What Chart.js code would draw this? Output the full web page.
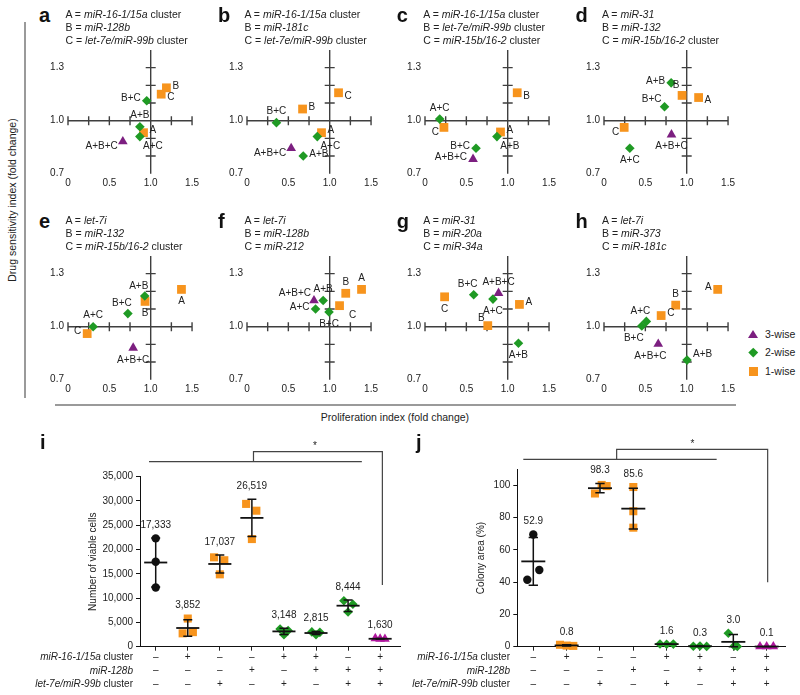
<!DOCTYPE html>
<html>
<head>
<meta charset="utf-8">
<script src="https://cdn.jsdelivr.net/npm/chart.js@4.4.1/dist/chart.umd.min.js"></script>
<style>
  body { margin: 0; background: #fff; }
  #page { position: relative; width: 800px; height: 695px; overflow: hidden;
          font-family: "Liberation Sans", Arial, Helvetica, sans-serif; color: #222; }
  #page canvas { position: absolute; }
  .txt { position: absolute; white-space: nowrap; font-size: 10.5px; line-height: 12.8px; }
  .letter { position: absolute; font-weight: bold; font-size: 20px; line-height: 22px; color: #111; }
  .rowlab { position: absolute; white-space: nowrap; font-size: 10px; line-height: 12px; text-align: right; width: 130px; }
  .gline { position: absolute; background: #9a9a9a; }
  .mk { position: absolute; }
</style>
</head>
<body>
<div id="page"></div>
<script>
// ---- scatter panels a-h: proliferation index (x) vs drug sensitivity index (y), fold change ----
const comboNames = ["A", "B", "C", "A+B", "A+C", "B+C", "A+B+C"];

const aProlif = [0.913, 1.19, 1.127, 0.869, 0.869, 0.952, 0.663];
const aDrug = [0.932, 1.186, 1.15, 0.966, 0.91, 1.113, 0.882];
const bProlif = [0.901, 0.672, 1.107, 0.68, 0.85, 0.356, 0.534];
const bDrug = [0.932, 1.066, 1.158, 0.80, 0.91, 0.989, 0.844];
const cProlif = [0.913, 1.115, 0.229, 0.87, 0.178, 0.617, 0.581];
const cDrug = [0.936, 1.158, 0.962, 0.91, 1.009, 0.844, 0.782];
const dProlif = [1.144, 0.944, 0.244, 0.812, 0.312, 0.732, 0.816];
const dDrug = [1.131, 1.143, 0.962, 1.214, 0.844, 1.079, 0.921];
const eProlif = [1.372, 0.932, 0.232, 0.928, 0.304, 0.724, 0.788];
const eDrug = [1.211, 1.143, 0.961, 1.174, 1.0, 1.074, 0.88];
const fProlif = [1.385, 1.194, 1.119, 0.921, 0.829, 0.992, 0.81];
const fDrug = [1.211, 1.189, 1.119, 1.148, 1.1, 1.083, 1.148];
const gProlif = [1.142, 0.759, 0.237, 1.13, 0.822, 0.589, 0.889];
const gDrug = [1.126, 1.006, 1.169, 0.906, 1.156, 1.181, 1.19];
const hProlif = [1.375, 0.867, 0.691, 1.004, 0.512, 0.457, 0.656];
const hDrug = [1.211, 1.122, 1.063, 0.811, 1.03, 1.004, 0.902];

// where each point's name sits next to it (same order as comboNames)
const aSide = ["r", "r", "rd", "t", "br", "l", "ld"];
const bSide = ["r", "r", "rd", "r", "br", "t", "ld"];
const cSide = ["r", "rd", "ld", "br", "t", "l", "l"];
const dSide = ["rd", "tl", "ld", "l", "b", "lu", "b"];
const eSide = ["b", "b", "l", "tl", "t", "tl", "b"];
const fSide = ["t", "t", "br", "t", "l", "b", "lu"];
const gSide = ["r", "lu", "b", "b", "b", "tl", "t"];
const hSide = ["l", "t", "r", "ru", "tl", "bl", "bl"];

const aKey = ["<i>miR-16-1/15a</i> cluster", "<i>miR-128b</i>", "<i>let-7e/miR-99b</i> cluster"];
const bKey = ["<i>miR-16-1/15a</i> cluster", "<i>miR-181c</i>", "<i>let-7e/miR-99b</i> cluster"];
const cKey = ["<i>miR-16-1/15a</i> cluster", "<i>let-7e/miR-99b</i> cluster", "<i>miR-15b/16-2</i> cluster"];
const dKey = ["<i>miR-31</i>", "<i>miR-132</i>", "<i>miR-15b/16-2</i> cluster"];
const eKey = ["<i>let-7i</i>", "<i>miR-132</i>", "<i>miR-15b/16-2</i> cluster"];
const fKey = ["<i>let-7i</i>", "<i>miR-128b</i>", "<i>miR-212</i>"];
const gKey = ["<i>miR-31</i>", "<i>miR-20a</i>", "<i>miR-34a</i>"];
const hKey = ["<i>let-7i</i>", "<i>miR-373</i>", "<i>miR-181c</i>"];

const xLabelTicks = [0, 0.5, 1.0, 1.5];
const yLabelTicks = [0.7, 1.0, 1.3];
const xAxisMarks = [0, 0.25, 0.5, 0.75, 1.0, 1.25, 1.5];
const yAxisMarks = [0.8, 0.9, 1.1, 1.2, 1.3];

// ---- panels i and j: three replicates per condition ----
const viableCells = [
  [22300, 17500, 12200], [5800, 2750, 3000], [18400, 17800, 14900], [29400, 28000, 22160],
  [3650, 3350, 2450], [3050, 2950, 2450], [9450, 8750, 7130], [1700, 1600, 1590]
];
const viableSpread = [
  [0, 0, 0], [0, -0.16, 0.16], [-0.18, 0.14, 0], [-0.18, 0.14, 0],
  [-0.12, 0.13, 0], [-0.13, 0.12, 0], [-0.13, 0.15, 0], [-0.15, 0, 0.15]
];
const viableMeans = ["17,333", "3,852", "17,037", "26,519", "3,148", "2,815", "8,444", "1,630"];

const colonyArea = [
  [69.6, 47.6, 41.5], [1.2, 0.7, 0.5], [95.0, 100.3, 99.6], [99, 84, 73.8],
  [1.7, 1.5, 1.6], [0.3, 0.4, 0.2], [8.3, 0.5, 0.2], [0.1, 0.1, 0.1]
];
const colonySpread = [
  [0, 0.18, -0.18], [-0.2, 0, 0.2], [-0.15, 0.05, 0.2], [0, 0, 0],
  [-0.2, 0, 0.2], [-0.2, 0, 0.2], [-0.15, 0.03, 0.12], [-0.2, 0, 0.2]
];
const colonyMeans = ["52.9", "0.8", "98.3", "85.6", "1.6", "0.3", "3.0", "0.1"];

const combosWise = [0, 1, 1, 1, 2, 2, 2, 3];
const row16 = ["–", "+", "–", "–", "+", "+", "–", "+"];
const row128 = ["–", "–", "–", "+", "–", "+", "+", "+"];
const rowLet7 = ["–", "–", "+", "–", "+", "–", "+", "+"];
const rowTitles = ["<i>miR-16-1/15a</i> cluster", "<i>miR-128b</i>", "<i>let-7e/miR-99b</i> cluster"];

const FONT = '"Liberation Sans", Arial, Helvetica, sans-serif';
Chart.defaults.font.family = FONT;
Chart.defaults.font.size = 10;
Chart.defaults.color = "#222";

const page = document.getElementById("page");

const wiseStyles = {
  0: { pointStyle: "circle", color: "#111111", radius: 4.2 },
  1: { pointStyle: "rect", color: "#f7941d", radius: 6.2 },
  2: { pointStyle: "rectRot", color: "#1f9a24", radius: 4.8 },
  3: { pointStyle: "triangle", color: "#7c1f80", radius: 5.6 },
};

const labelOffsets = {
  r: [6, -2, "left"], rd: [6, 3, "left"], ru: [6, -6, "left"],
  l: [-6, -2, "right"], ld: [-5, 5, "right"], lu: [-3, -7, "right"],
  t: [0, -11, "center"], tl: [-6, -10, "center"],
  b: [0, 12, "center"], bl: [-8, 12, "center"], br: [13, 10, "center"],
};

function addDiv(cls, html, style) {
  const el = document.createElement("div");
  el.className = cls;
  el.innerHTML = html;
  Object.assign(el.style, style);
  page.appendChild(el);
  return el;
}

function addCanvas(left, top, w, h) {
  const canvas = document.createElement("canvas");
  canvas.width = w;
  canvas.height = h;
  canvas.style.left = left + "px";
  canvas.style.top = top + "px";
  page.appendChild(canvas);
  return canvas;
}

// axes that cross at (1.0, 1.0), with marks on both sides of the line
const crossAxes = {
  id: "crossAxes",
  beforeDatasetsDraw(chart) {
    const { ctx, scales: { x, y } } = chart;
    const x1 = x.getPixelForValue(1);
    const y1 = y.getPixelForValue(1);
    ctx.save();
    ctx.strokeStyle = "#3f3f3f";
    ctx.lineWidth = 1.4;
    ctx.beginPath();
    ctx.moveTo(x.getPixelForValue(0), y1);
    ctx.lineTo(x.getPixelForValue(1.5), y1);
    ctx.moveTo(x1, y.getPixelForValue(0.7));
    ctx.lineTo(x1, y.getPixelForValue(1.4));
    for (const v of xAxisMarks) {
      const px = x.getPixelForValue(v);
      ctx.moveTo(px, y1 - 4.5);
      ctx.lineTo(px, y1 + 4.5);
    }
    for (const v of yAxisMarks) {
      const py = y.getPixelForValue(v);
      ctx.moveTo(x1 - 5, py);
      ctx.lineTo(x1 + 5, py);
    }
    ctx.stroke();
    ctx.restore();
  },
};

const comboLabels = {
  id: "comboLabels",
  afterDatasetsDraw(chart) {
    const ctx = chart.ctx;
    ctx.save();
    ctx.font = "10px " + FONT;
    ctx.fillStyle = "#222";
    ctx.textBaseline = "middle";
    chart.data.datasets.forEach((ds, di) => {
      chart.getDatasetMeta(di).data.forEach((pt, i) => {
        const [dx, dy, align] = labelOffsets[ds.data[i].side];
        ctx.textAlign = align;
        ctx.fillText(ds.data[i].name, pt.x + dx, pt.y + dy);
      });
    });
    ctx.restore();
  },
};

function makeScatter(prolif, drug, side, left, top) {
  const datasets = [3, 2, 1].map((wise) => {
    const st = wiseStyles[wise];
    const points = [];
    comboNames.forEach((name, i) => {
      if (name.split("+").length === wise) {
        points.push({ x: prolif[i], y: drug[i], name, side: side[i] });
      }
    });
    return {
      data: points,
      pointStyle: st.pointStyle,
      pointRadius: st.radius,
      backgroundColor: st.color,
      borderColor: st.color,
      borderWidth: 0,
      clip: false,
    };
  });
  new Chart(addCanvas(left, top, 175, 150), {
    type: "scatter",
    data: { datasets },
    options: {
      responsive: false,
      animation: false,
      events: [],
      layout: { padding: { top: 10, right: 8.5, left: 0, bottom: 0 } },
      plugins: { legend: { display: false }, tooltip: { enabled: false } },
      scales: {
        x: {
          type: "linear", min: 0, max: 1.5,
          grid: { display: false, drawTicks: false },
          border: { display: false },
          afterBuildTicks: (s) => { s.ticks = xLabelTicks.map((v) => ({ value: v })); },
          afterFit: (s) => { s.height = 16.3; },
          ticks: { padding: 4, maxRotation: 0, autoSkip: false,
                   callback: (v) => (v === 0 ? "0" : v.toFixed(1)) },
        },
        y: {
          type: "linear", min: 0.7, max: 1.4,
          grid: { display: false, drawTicks: false },
          border: { display: false },
          afterBuildTicks: (s) => { s.ticks = yLabelTicks.map((v) => ({ value: v })); },
          afterFit: (s) => { s.width = 40; },
          ticks: { padding: 4, callback: (v) => v.toFixed(1) },
        },
      },
    },
    plugins: [crossAxes, comboLabels],
  });
}

const scatterPanels = [
  { letter: "a", prolif: aProlif, drug: aDrug, side: aSide, key: aKey },
  { letter: "b", prolif: bProlif, drug: bDrug, side: bSide, key: bKey },
  { letter: "c", prolif: cProlif, drug: cDrug, side: cSide, key: cKey },
  { letter: "d", prolif: dProlif, drug: dDrug, side: dSide, key: dKey },
  { letter: "e", prolif: eProlif, drug: eDrug, side: eSide, key: eKey },
  { letter: "f", prolif: fProlif, drug: fDrug, side: fSide, key: fKey },
  { letter: "g", prolif: gProlif, drug: gDrug, side: gSide, key: gKey },
  { letter: "h", prolif: hProlif, drug: hDrug, side: hSide, key: hKey },
];

const colLeft = [67.5, 246.5, 425.3, 604];
const rowTop = [50.3, 256.3];

scatterPanels.forEach((p, k) => {
  const left = colLeft[k % 4];
  const top = rowTop[Math.floor(k / 4)];
  makeScatter(p.prolif, p.drug, p.side, left - 40, top - 10);
  addDiv("letter", p.letter, { left: left - 28.5 + "px", top: top - 46 + "px" });
  addDiv("txt", p.key.map((t, i) => "ABC"[i] + " = " + t).join("<br>"),
         { left: left - 2 + "px", top: top - 42 + "px" });
});

// shared axis titles for a-h
addDiv("gline", "", { left: "24px", top: "22px", width: "2px", height: "376px" });
addDiv("gline", "", { left: "55px", top: "404px", width: "681px", height: "2px" });
addDiv("txt", "Drug sensitivity index (fold change)",
       { left: "12px", top: "200px", transform: "translate(-50%, -50%) rotate(-90deg)" });
addDiv("txt", "Proliferation index (fold change)",
       { left: "395px", top: "417px", transform: "translate(-50%, -50%)" });

// legend
const legendItems = [
  { label: "3-wise", y: 334.5, css: { width: "0", height: "0", borderLeft: "5px solid transparent",
    borderRight: "5px solid transparent", borderBottom: "8.5px solid #7c1f80", marginLeft: "-5px", marginTop: "-4.8px" } },
  { label: "2-wise", y: 352.3, css: { width: "6.5px", height: "6.5px", background: "#1f9a24",
    transform: "rotate(45deg)", marginLeft: "-3.2px", marginTop: "-3.2px" } },
  { label: "1-wise", y: 371.2, css: { width: "9px", height: "9px", background: "#f7941d",
    marginLeft: "-4.5px", marginTop: "-4.5px" } },
];
legendItems.forEach((it) => {
  addDiv("mk", "", Object.assign({ left: "753.3px", top: it.y + "px" }, it.css));
  addDiv("txt", it.label, { left: "765px", top: it.y - 6.4 + "px" });
});

// ---- i and j ----
const summaryMarks = {
  id: "summaryMarks",
  afterDatasetsDraw(chart, args, opts) {
    const { ctx, chartArea, scales: { x, y } } = chart;
    ctx.save();
    ctx.strokeStyle = "#111";
    ctx.lineWidth = 1.5;
    ctx.font = "10px " + FONT;
    ctx.fillStyle = "#222";
    ctx.textAlign = "center";
    ctx.textBaseline = "middle";
    opts.values.forEach((vals, i) => {
      const col = i + 1;
      const mean = vals.reduce((a, b) => a + b, 0) / vals.length;
      const sd = Math.sqrt(vals.reduce((a, v) => a + (v - mean) ** 2, 0) / (vals.length - 1));
      const yHi = y.getPixelForValue(mean + sd);
      const yLo = y.getPixelForValue(Math.max(mean - sd, y.min));
      const yMean = y.getPixelForValue(mean);
      ctx.beginPath();
      ctx.moveTo(x.getPixelForValue(col), yHi);
      ctx.lineTo(x.getPixelForValue(col), yLo);
      ctx.moveTo(x.getPixelForValue(col - 0.14), yHi);
      ctx.lineTo(x.getPixelForValue(col + 0.14), yHi);
      ctx.moveTo(x.getPixelForValue(col - 0.14), yLo);
      ctx.lineTo(x.getPixelForValue(col + 0.14), yLo);
      ctx.stroke();
      ctx.beginPath();
      ctx.lineWidth = 1.8;
      ctx.moveTo(x.getPixelForValue(col - 0.36), yMean);
      ctx.lineTo(x.getPixelForValue(col + 0.36), yMean);
      ctx.stroke();
      ctx.lineWidth = 1.5;
      const top = y.getPixelForValue(Math.max(mean + sd, ...vals));
      ctx.fillText(opts.labels[i], x.getPixelForValue(col), top - 13);
    });
    // significance bracket
    const b = opts.bracket;
    const t = chartArea.top;
    ctx.strokeStyle = "#444";
    ctx.lineWidth = 1.2;
    ctx.beginPath();
    ctx.moveTo(x.getPixelForValue(b.from), t - b.low);
    ctx.lineTo(x.getPixelForValue(b.to), t - b.low);
    ctx.moveTo(x.getPixelForValue(b.mid), t - b.low);
    ctx.lineTo(x.getPixelForValue(b.mid), t - b.high);
    ctx.lineTo(x.getPixelForValue(b.end), t - b.high);
    ctx.lineTo(x.getPixelForValue(b.end), y.getPixelForValue(b.drop));
    ctx.stroke();
    ctx.fillText("*", x.getPixelForValue(b.star), t - b.high - 5);
    ctx.restore();
  },
};

function makeDotPlot(values, spread, labels, opt) {
  const datasets = values.map((vals, i) => {
    const st = Object.assign({}, wiseStyles[combosWise[i]]);
    if (combosWise[i] === 3) st.color = "#b0189e";
    if (combosWise[i] === 1) st.radius = 5.7;
    return {
      data: vals.map((v, k) => ({ x: i + 1 + spread[i][k], y: v })),
      pointStyle: st.pointStyle,
      pointRadius: st.radius,
      backgroundColor: st.color,
      borderColor: st.color,
      borderWidth: 0,
      clip: false,
    };
  });
  new Chart(addCanvas(opt.left, 430, opt.width, 265), {
    type: "scatter",
    data: { datasets },
    options: {
      responsive: false,
      animation: false,
      events: [],
      layout: { padding: { top: opt.padTop, right: 10, left: opt.padLeft, bottom: 0 } },
      plugins: {
        legend: { display: false },
        tooltip: { enabled: false },
        summaryMarks: { values, labels, bracket: opt.bracket },
      },
      scales: {
        x: {
          type: "linear", min: opt.xMin, max: opt.xMax,
          afterBuildTicks: (s) => { s.ticks = row16.map((_, i) => ({ value: i + 1 })); },
          afterFit: (s) => { s.height = 48.3; },
          ticks: {
            padding: 0, maxRotation: 0, autoSkip: false,
            font: { size: 10, lineHeight: 1.33 },
            callback: (v) => [row16[v - 1], row128[v - 1], rowLet7[v - 1]],
          },
          grid: { drawOnChartArea: false, drawTicks: true, tickLength: 4, color: "#222" },
          border: { display: true, color: "#111", width: 1, dash: [2, 2] },
        },
        y: {
          type: "linear", min: 0, max: opt.yMax,
          afterFit: (s) => { s.width = opt.yWidth; },
          ticks: { stepSize: opt.yStep, padding: 3, includeBounds: false,
                   callback: (v) => v.toLocaleString("en-US") },
          grid: { drawOnChartArea: false, drawTicks: true, tickLength: 4, color: "#111" },
          border: { display: true, color: "#111", width: 1 },
          title: { display: true, text: opt.title, padding: 0, font: { size: 10 } },
        },
      },
    },
    plugins: [summaryMarks],
  });
}

makeDotPlot(viableCells, viableSpread, viableMeans, {
  left: 40, width: 370, padTop: 46.7, padLeft: 47, yWidth: 53,
  xMin: 0.51, xMax: 8.62, yMax: 35000, yStep: 5000, title: "Number of viable cells",
  bracket: { from: 0.79, to: 7.43, mid: 4.05, end: 8.07, low: 15, high: 25, drop: 12700, star: 5.97 },
});
makeDotPlot(colonyArea, colonySpread, colonyMeans, {
  left: 420, width: 375, padTop: 39.3, padLeft: 55.7, yWidth: 41.6,
  xMin: 0.52, xMax: 8.55, yMax: 110, yStep: 20, title: "Colony area (%)",
  bracket: { from: 0.7, to: 6.5, mid: 3.5, end: 8.03, low: 10, high: 20, drop: 40, star: 5.77 },
});

addDiv("letter", "i", { left: "40px", top: "431px" });
addDiv("letter", "j", { left: "416px", top: "431px" });
[133, 510].forEach((right) => {
  rowTitles.forEach((t, r) => {
    addDiv("rowlab", t, { left: right - 130 + "px", top: 651.3 + r * 13.35 + "px" });
  });
});
</script>
</body>
</html>
